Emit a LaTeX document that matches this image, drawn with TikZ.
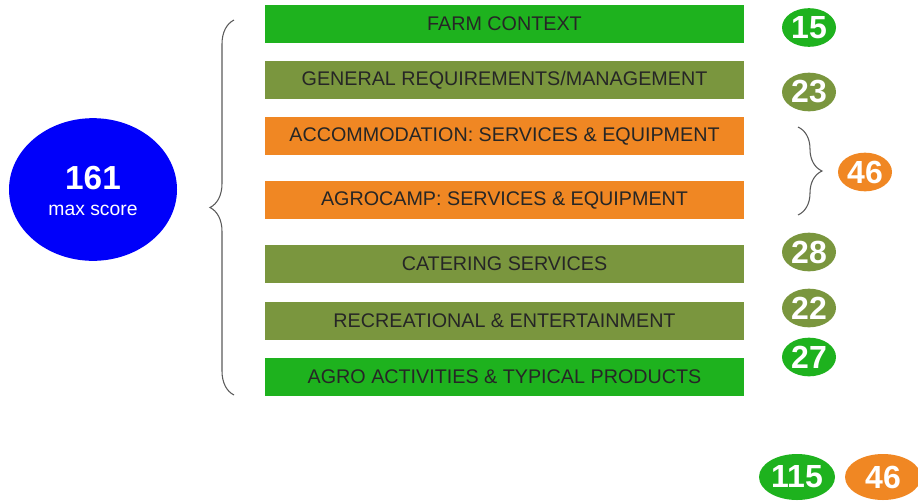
\documentclass[tikz,border=0pt]{standalone}
\usepackage{fontspec}
\setmainfont{Liberation Sans}
\usetikzlibrary{shapes.geometric,decorations.pathreplacing}
\definecolor{farmgreen}{RGB}{30,178,30}
\definecolor{mossgreen}{RGB}{122,150,62}
\definecolor{barorange}{RGB}{240,135,35}
\definecolor{scoreblue}{RGB}{0,0,250}
\definecolor{bracegray}{RGB}{90,90,90}

\begin{document}
\begin{tikzpicture}[x=0.75pt,y=-0.75pt,
  bar/.style={minimum width=359.25pt, minimum height=28.5pt, inner sep=0pt,
    font=\fontsize{14.8}{16}\selectfont, text=black!85},
  score/.style={ellipse, inner sep=0pt, minimum width=40.5pt, minimum height=29pt,
    text=white, font=\bfseries\fontsize{24}{26}\selectfont},
  bigscore/.style={score, minimum width=57pt, minimum height=34.5pt},
  curly/.style={bracegray, line width=0.8pt, decorate,
    decoration={brace, amplitude=18pt}}]
  \useasboundingbox (0,0) rectangle (918,501);

  % maximum score
  \node[ellipse, fill=scoreblue, inner sep=0pt, minimum width=126pt, minimum height=107pt]
    (maxscore) at (93,189.5) {};
  \node[text=white, font=\bfseries\fontsize{25}{27}\selectfont] (total) at (93,178) {161};
  \node[text=white, font=\fontsize{14.5}{16}\selectfont] (maxlabel) at (93,210) {max score};

  % sections
  \foreach \i/\y/\col/\lab in {1/23.5/farmgreen/{FARM CONTEXT},
      2/80/mossgreen/{GENERAL REQUIREMENTS/MANAGEMENT},
      3/136/barorange/{ACCOMMODATION: SERVICES \& EQUIPMENT},
      4/200/barorange/{AGROCAMP: SERVICES \& EQUIPMENT},
      5/264/mossgreen/{CATERING SERVICES},
      6/321/mossgreen/{RECREATIONAL \& ENTERTAINMENT},
      7/377/farmgreen/{AGRO ACTIVITIES \& TYPICAL PRODUCTS}} {
    \node[bar, fill=\col] (bar\i) at (504.5,\y) {\lab};
  }

  % section scores
  \foreach \name/\x/\y/\col/\val in {s1/809/27.5/farmgreen/15, s2/809/92/mossgreen/23,
      s34/865/172/barorange/46, s5/809/252/mossgreen/28, s6/809/308/mossgreen/22,
      s7/809/357/farmgreen/27} {
    \node[score, fill=\col] (\name) at (\x,\y) {\val};
  }
  \node[bigscore, fill=farmgreen] (greensum) at (797,477) {115};
  \node[bigscore, fill=barorange] (orangesum) at (883,477) {46};

  % braces
  \coordinate (btop) at (234,20);
  \coordinate (bbot) at (234,395);
  \draw[curly] (bbot) -- (btop);
  \coordinate (otop) at (798,127);
  \coordinate (obot) at (798,215);
  \draw[curly] (otop) -- (obot);
\end{tikzpicture}
\end{document}
